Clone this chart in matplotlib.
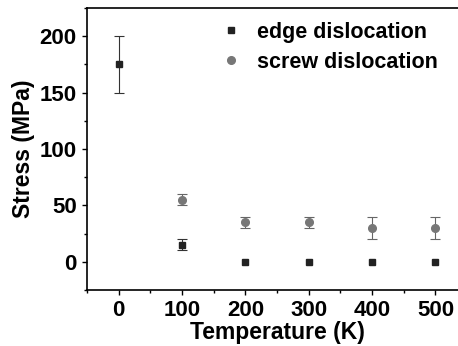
import matplotlib
matplotlib.use("Agg")
import matplotlib.pyplot as plt
from matplotlib.lines import Line2D
from matplotlib.ticker import MultipleLocator

plt.rcParams["font.family"] = ["Liberation Sans", "DejaVu Sans"]
plt.rcParams["font.weight"] = "bold"

# edge dislocation (black squares)
edge_T = [0, 100, 200, 300, 400, 500]
edge_S = [175, 15, 0, 0, 0, 0]
edge_err = [25, 5, 0, 0, 0, 0]

# screw dislocation (grey circles)
screw_T = [100, 200, 300, 400, 500]
screw_S = [55, 35, 35, 30, 30]
screw_err = [5, 5, 5, 10, 10]

EDGE_C = "#222222"
SCREW_C = "#777777"

fig = plt.figure(figsize=(4.58, 3.46), dpi=100)
ax = fig.add_axes([0.190, 0.162, 0.830, 0.815])

ax.errorbar(edge_T, edge_S, yerr=[e if e else float("nan") for e in edge_err],
            fmt="s", color=EDGE_C, ecolor="#333333", ms=5, elinewidth=0.8,
            capsize=3.3, capthick=0.8)
ax.errorbar(screw_T, screw_S, yerr=screw_err,
            fmt="o", color=SCREW_C, ecolor="#666666", ms=5.5, elinewidth=0.8,
            capsize=3.3, capthick=0.8)

ax.set_xlim(-50, 550)
ax.set_ylim(-25, 225)
ax.xaxis.set_major_locator(MultipleLocator(100))
ax.xaxis.set_minor_locator(MultipleLocator(50))
ax.yaxis.set_major_locator(MultipleLocator(50))
ax.yaxis.set_minor_locator(MultipleLocator(25))
ax.tick_params(which="major", direction="out", length=3.5, width=1, labelsize=16, pad=4)
ax.tick_params(which="minor", direction="out", length=2, width=1)
ax.spines["right"].set_visible(False)
for s in ("left", "bottom", "top"):
    ax.spines[s].set_linewidth(1.2)

ax.set_xlabel("Temperature (K)", fontsize=16.5, fontweight="bold", labelpad=0)
ax.set_ylabel("Stress (MPa)", fontsize=16.5, fontweight="bold", labelpad=3)

handles = [
    Line2D([], [], ls="none", marker="s", ms=5, color=EDGE_C, label="edge dislocation"),
    Line2D([], [], ls="none", marker="o", ms=5.5, color=SCREW_C, label="screw dislocation"),
]
ax.legend(handles=handles, loc="upper left", bbox_to_anchor=(0.30, 1.02), frameon=False,
          fontsize=15.5, handletextpad=0.7, labelspacing=0.42, handlelength=1.0)

fig.savefig("out.png", dpi=100)
